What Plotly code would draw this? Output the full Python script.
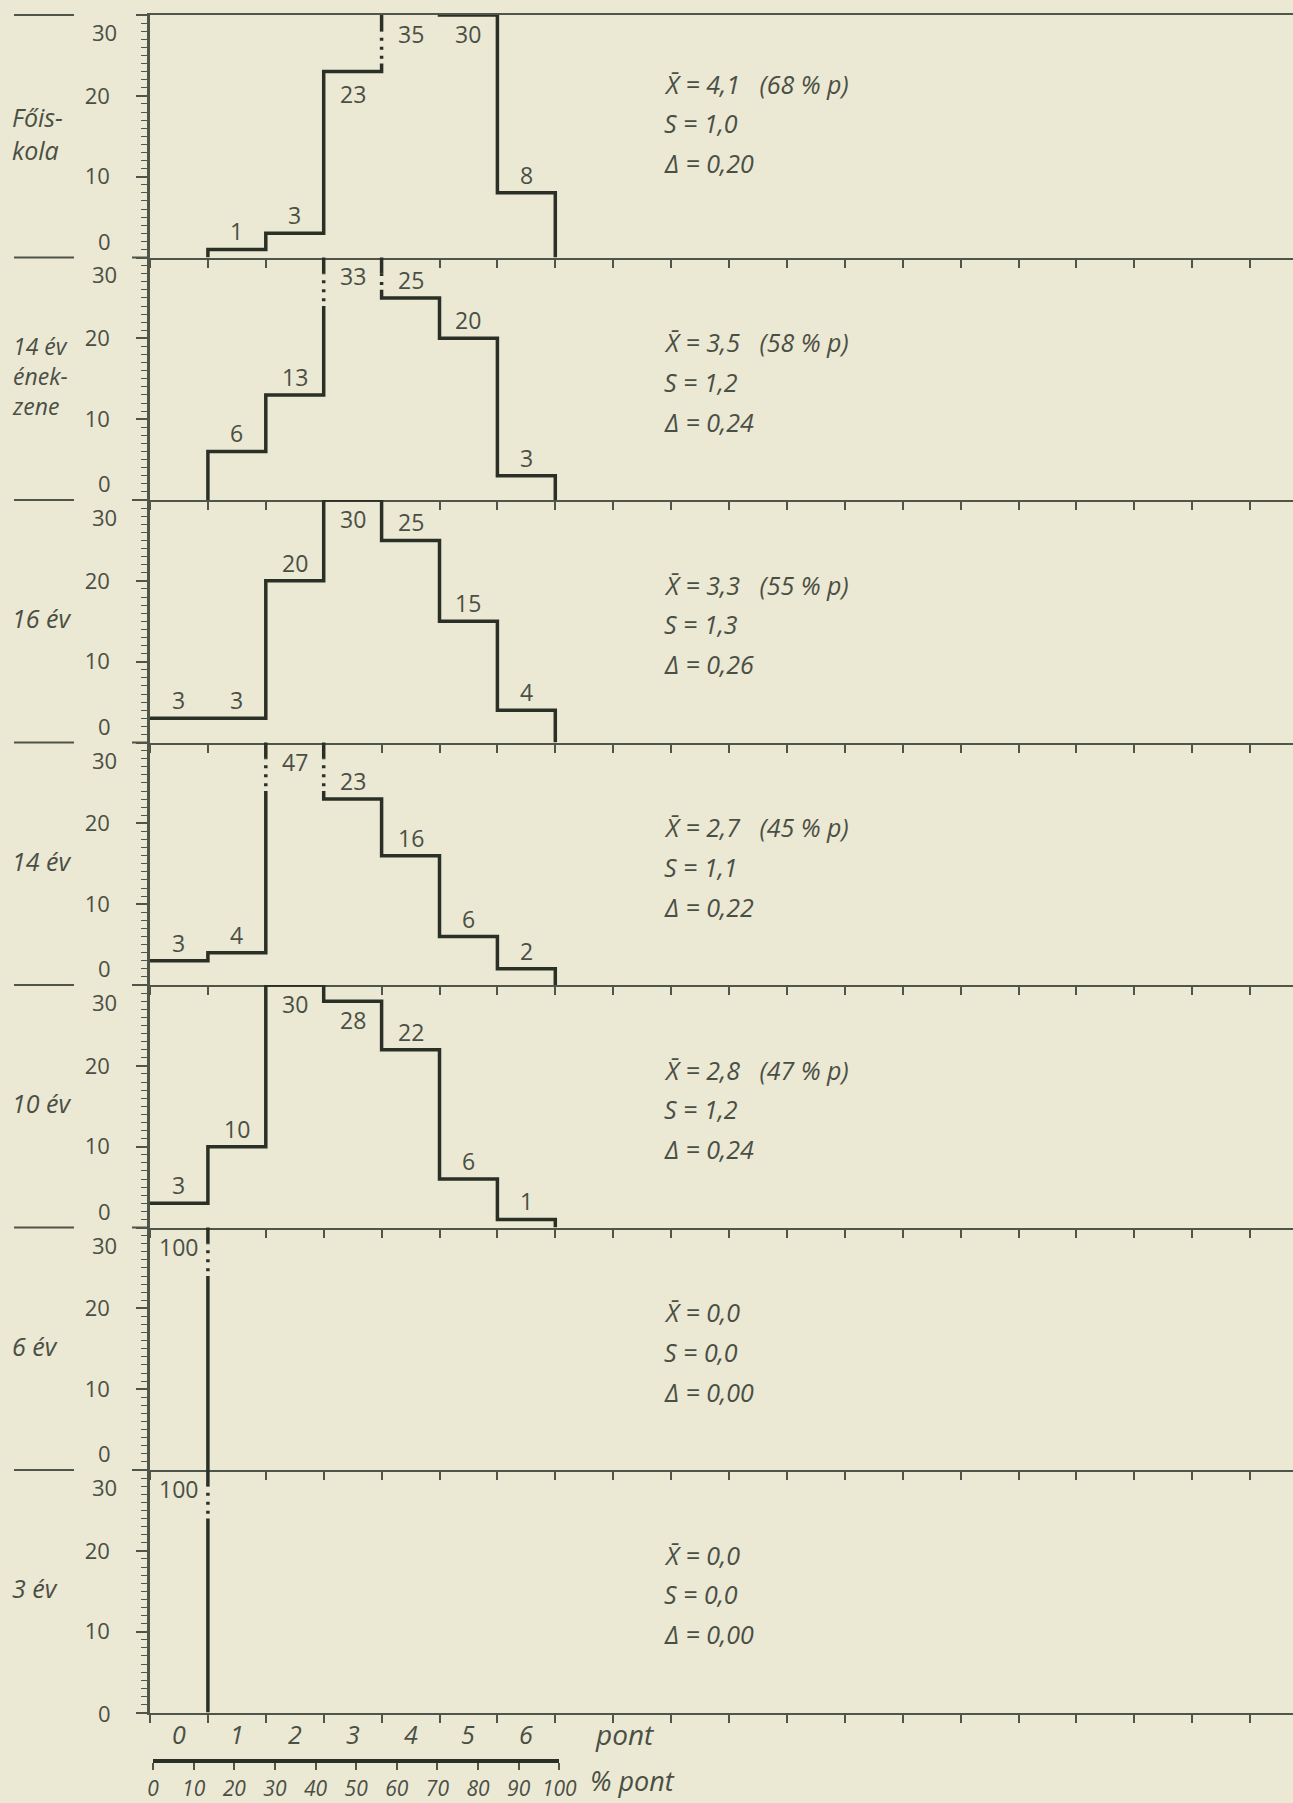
import plotly.graph_objects as go

# ---------------- data ----------------
groups = ["Főis-<br>kola", "14 év<br>ének-<br>zene", "16 év", "14 év", "10 év", "6 év", "3 év"]
points = ["0", "1", "2", "3", "4", "5", "6"]
pct_foiskola = [0, 1, 3, 23, 35, 30, 8]
pct_14ev_enekzene = [0, 6, 13, 33, 25, 20, 3]
pct_16ev = [3, 3, 20, 30, 25, 15, 4]
pct_14ev = [3, 4, 47, 23, 16, 6, 2]
pct_10ev = [3, 10, 30, 28, 22, 6, 1]
pct_6ev = [100, 0, 0, 0, 0, 0, 0]
pct_3ev = [100, 0, 0, 0, 0, 0, 0]
series = [pct_foiskola, pct_14ev_enekzene, pct_16ev, pct_14ev, pct_10ev, pct_6ev, pct_3ev]
means = ["4,1", "3,5", "3,3", "2,7", "2,8", "0,0", "0,0"]
mean_pct = ["68", "58", "55", "45", "47", None, None]
sds = ["1,0", "1,2", "1,3", "1,1", "1,2", "0,0", "0,0"]
deltas = ["0,20", "0,24", "0,26", "0,22", "0,24", "0,00", "0,00"]
pct_ticks = [0, 10, 20, 30, 40, 50, 60, 70, 80, 90, 100]
y_max = 30

# ---------------- style / layout ----------------
W, H = 1293, 1803
BG = "#ebe8d4"
LINE = "#2b3026"
AX = "#50554a"
TXT = "#4a4f44"
FONT = "Open Sans"
x_left_px = 150
unit_px = 57.9
x_max = (W - x_left_px) / unit_px
top_px, panel_px = 15, 242.5
NB = "\u00a0"

fig = go.Figure()
annotations = []
layout_axes = {}
n = len(series)
nb = len(points)

for k, vals in enumerate(series):
    sfx = "" if k == 0 else str(k + 1)
    xa, ya = "x" + sfx, "y" + sfx
    nz = [i for i, v in enumerate(vals) if v > 0]
    f, l = nz[0], nz[-1]
    if f == 0:
        xs = list(range(0, l + 2))
        ys = list(vals[:l + 1]) + [0]
    else:
        xs = [f] + list(range(f, l + 2))
        ys = [0] + list(vals[f:l + 1]) + [0]
    fig.add_trace(go.Scatter(x=xs, y=ys, mode="lines",
                             line=dict(shape="hv", color=LINE, width=3.5),
                             xaxis=xa, yaxis=ya, showlegend=False, hoverinfo="skip"))
    # dotted break on risers going beyond the top
    for i in range(1, nb + 1):
        a = vals[i - 1]
        b = vals[i] if i < nb else 0
        lo = min(a, b)
        if max(a, b) > y_max and lo < 27:
            b0, b1 = max(lo + 1, 24), 28
            fig.add_trace(go.Scatter(x=[i, i], y=[b0, b1], mode="lines",
                                     line=dict(color=BG, width=7),
                                     xaxis=xa, yaxis=ya, showlegend=False, hoverinfo="skip"))
            fig.add_trace(go.Scatter(x=[i, i], y=[b0 + 0.6, b1], mode="lines",
                                     line=dict(color=LINE, width=3.5, dash="3px,6px"),
                                     xaxis=xa, yaxis=ya, showlegend=False, hoverinfo="skip"))
    # value labels
    for i, v in enumerate(vals):
        if v <= 0:
            continue
        below = (k == 0 and i == 3)
        lf = dict(size=23, color=TXT, family=FONT)
        if v >= 27:
            annotations.append(dict(x=i + 0.5, y=min(v, y_max), xref=xa, yref=ya, text=str(v),
                                    showarrow=False, yanchor="top", yshift=-1, font=lf))
        elif below:
            annotations.append(dict(x=i + 0.5, y=v, xref=xa, yref=ya, text=str(v),
                                    showarrow=False, yanchor="top", yshift=-4, font=lf))
        else:
            annotations.append(dict(x=i + 0.5, y=v, xref=xa, yref=ya, text=str(v),
                                    showarrow=False, yanchor="bottom", yshift=0, font=lf))
    # stats text
    l1 = "X\u0304" + NB + "=" + NB + means[k]
    if mean_pct[k]:
        l1 += NB * 3 + "(" + mean_pct[k] + NB + "%" + NB + "p)"
    sy = 21.5 if k == 0 else 19.5
    for txt, yy in [(l1, sy), ("S" + NB + "=" + NB + sds[k], sy - 4.9), ("Δ" + NB + "=" + NB + deltas[k], sy - 9.8)]:
        annotations.append(dict(x=8.85, y=yy, xref=xa, yref=ya, text=txt, showarrow=False,
                                xanchor="left", yanchor="middle",
                                font=dict(size=25, color=TXT, family=FONT, style="italic")))
    # row label
    annotations.append(dict(x=10 / W, y=15.4, xref="paper", yref=ya, text=groups[k],
                            showarrow=False, xanchor="left", yanchor="middle", align="left",
                            font=dict(size=25 if k != 1 else 23, color=TXT, family=FONT, style="italic")))
    # 0 / 30 axis labels
    annotations.append(dict(x=104 / W, y=0, xref="paper", yref=ya, text="0", showarrow=False,
                            xanchor="center", yanchor="middle" if k == n - 1 else "bottom",
                            font=dict(size=22, color=TXT, family=FONT)))
    annotations.append(dict(x=104 / W, y=y_max, xref="paper", yref=ya, text=str(y_max), showarrow=False,
                            xanchor="center", yanchor="top",
                            font=dict(size=22, color=TXT, family=FONT)))

    y1 = 1 - (top_px + k * panel_px) / H
    y0 = 1 - (top_px + (k + 1) * panel_px) / H
    layout_axes["xaxis" + sfx] = dict(domain=[x_left_px / W, 1], range=[0, x_max], anchor=ya,
                                      showline=True, linecolor=AX, linewidth=2, mirror=(k == 0),
                                      ticks="outside", tickmode="linear", tick0=0, dtick=1,
                                      ticklen=8, tickwidth=1.5, tickcolor=AX, automargin=False,
                                      showticklabels=False, showgrid=False, zeroline=False)
    layout_axes["yaxis" + sfx] = dict(domain=[y0, y1], range=[0, y_max], anchor=xa,
                                      showline=True, linecolor=AX, linewidth=2.5,
                                      ticks="outside", tickmode="linear", tick0=0, dtick=10,
                                      ticklen=11, tickwidth=1.5, tickcolor=AX, automargin=False,
                                      labelalias={"0": " ", "30": " "},
                                      ticklabelstandoff=22,
                                      tickfont=dict(size=22, color=TXT, family=FONT),
                                      minor=dict(ticks="outside", dtick=1, tick0=0, ticklen=6,
                                                 tickwidth=1.2, tickcolor=AX),
                                      showgrid=False, zeroline=False)

# separator stubs and left dashes
shapes = []
for k in range(n):
    yp = 1 - (top_px + k * panel_px) / H
    shapes.append(dict(type="line", xref="paper", yref="paper", x0=14 / W, x1=74 / W, y0=yp, y1=yp,
                       line=dict(color=AX, width=2)))
    if k > 0:
        shapes.append(dict(type="line", xref="paper", yref="paper", x0=132 / W, x1=x_left_px / W,
                           y0=yp, y1=yp, line=dict(color=AX, width=2)))

# bottom point labels
last_x = "x" + str(n)
yl = 1 - 1734 / H
for i, p in enumerate(points):
    annotations.append(dict(x=i + 0.5, y=yl, xref=last_x, yref="paper", text=p, showarrow=False,
                            yanchor="middle", font=dict(size=25, color=TXT, family=FONT, style="italic")))
annotations.append(dict(x=8.2, y=yl, xref=last_x, yref="paper", text="pont", showarrow=False,
                        yanchor="middle", font=dict(size=28, color=TXT, family=FONT, style="italic")))

# percent scale axis
fig.add_trace(go.Scatter(x=[pct_ticks[0], pct_ticks[-1]], y=[0, 0], mode="markers",
                         marker=dict(opacity=0), xaxis="x8", yaxis="y8",
                         showlegend=False, hoverinfo="skip"))
layout_axes["xaxis8"] = dict(domain=[153 / W, (x_left_px + nb * unit_px + 4) / W],
                             range=[pct_ticks[0], pct_ticks[-1]], anchor="free",
                             position=1 - 1761 / H, showline=True, linecolor=LINE, linewidth=3.5,
                             ticks="outside", tickvals=pct_ticks, ticklen=7, tickwidth=1.5,
                             tickcolor=AX, ticklabelstandoff=1, automargin=False,
                             tickfont=dict(size=21, color=TXT, family=FONT, style="italic"),
                             showgrid=False, zeroline=False)
layout_axes["yaxis8"] = dict(domain=[0, 0.01], visible=False, anchor="x8", automargin=False)
annotations.append(dict(x=588 / W, y=1 - 1780 / H, xref="paper", yref="paper",
                        text="%" + NB + "pont", showarrow=False, xanchor="left", yanchor="middle",
                        font=dict(size=27, color=TXT, family=FONT, style="italic")))

fig.update_layout(width=W, height=H, margin=dict(l=0, r=0, t=0, b=0, autoexpand=False),
                  paper_bgcolor=BG, plot_bgcolor=BG, showlegend=False,
                  annotations=annotations, shapes=shapes, **layout_axes)

fig.write_html("out.html", config={"displayModeBar": False},
               post_script="document.body.style.margin='0';document.body.style.background='#ebe8d4';")
